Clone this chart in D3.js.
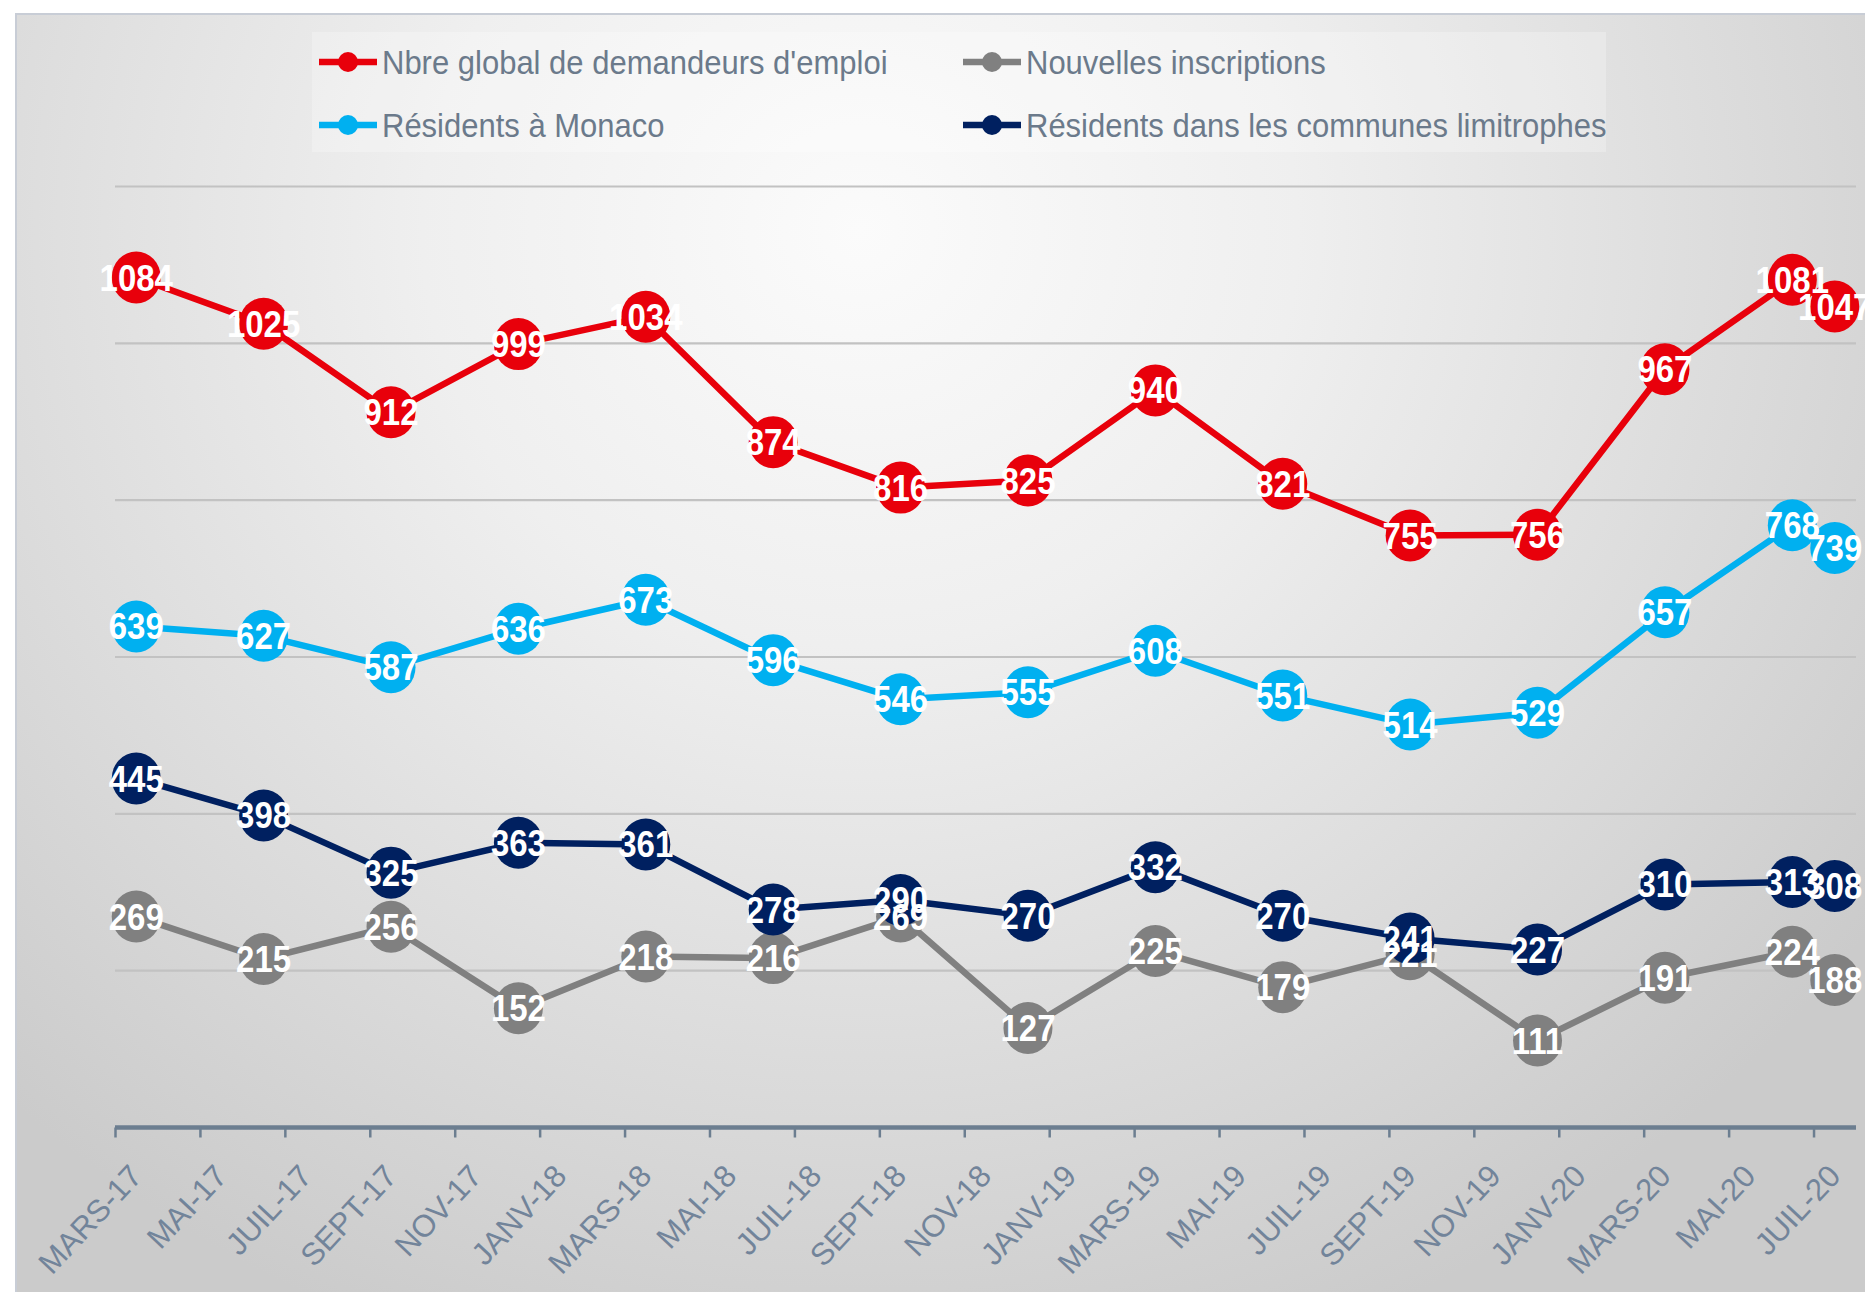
<!DOCTYPE html>
<html>
<head>
<meta charset="utf-8">
<script src="https://cdn.jsdelivr.net/npm/d3@7"></script>
<style>
  html, body { margin: 0; padding: 0; background: #ffffff; }
  svg { display: block; }
</style>
</head>
<body>
<svg id="chart" width="1865" height="1292"></svg>
<script>
// ---------------- DATA ----------------
const months = ["2017-03","2017-06","2017-09","2017-12","2018-03","2018-06","2018-09","2018-12","2019-03","2019-06","2019-09","2019-12","2020-03","2020-06","2020-07"];
const nbreGlobal = [1084, 1025, 912, 999, 1034, 874, 816, 825, 940, 821, 755, 756, 967, 1081, 1047];
const nouvellesInscriptions = [269, 215, 256, 152, 218, 216, 269, 127, 225, 179, 221, 111, 191, 224, 188];
const residentsMonaco = [639, 627, 587, 636, 673, 596, 546, 555, 608, 551, 514, 529, 657, 768, 739];
const residentsLimitrophes = [445, 398, 325, 363, 361, 278, 290, 270, 332, 270, 241, 227, 310, 313, 308];
const tickLabels = ["MARS-17","MAI-17","JUIL-17","SEPT-17","NOV-17","JANV-18","MARS-18","MAI-18","JUIL-18","SEPT-18","NOV-18","JANV-19","MARS-19","MAI-19","JUIL-19","SEPT-19","NOV-19","JANV-20","MARS-20","MAI-20","JUIL-20"];
const seriesNames = ["Nbre global de demandeurs d'emploi","Nouvelles inscriptions","Résidents à Monaco","Résidents dans les communes limitrophes"];
const seriesColors = ["#e8000b","#808080","#00b0f0","#002060"];
const yTicks = [200, 400, 600, 800, 1000, 1200];

// ---------------- SETUP ----------------
const W = 1865, H = 1292;
const svg = d3.select("#chart");
const defs = svg.append("defs");

const grad = defs.append("radialGradient")
  .attr("id", "bg").attr("gradientUnits", "userSpaceOnUse")
  .attr("cx", 860).attr("cy", 230).attr("r", 1250)
  .attr("gradientTransform", "translate(860,230) scale(1,0.95) translate(-860,-230)");
grad.append("stop").attr("offset", "0").attr("stop-color", "#fbfbfb");
grad.append("stop").attr("offset", "0.35").attr("stop-color", "#efefef");
grad.append("stop").attr("offset", "0.75").attr("stop-color", "#d9d9d9");
grad.append("stop").attr("offset", "1").attr("stop-color", "#cbcbcb");

svg.append("rect").attr("width", W).attr("height", H).attr("fill", "#ffffff");
svg.append("rect").attr("x", 16).attr("y", 14).attr("width", W).attr("height", H)
  .attr("fill", "url(#bg)").attr("stroke", "#c8cdd6").attr("stroke-width", 2);

// month index helper
const monthIndex = s => { const [yy, mm] = s.split("-").map(Number); return (yy - 2017) * 12 + (mm - 3); };

const x = d3.scaleLinear().domain([0, 41]).range([115, 1856]);
const y = d3.scaleLinear().domain([0, 1200]).range([1127.5, 186.5]);

// gridlines
svg.append("g").selectAll("line").data(yTicks).join("line")
  .attr("x1", x(0)).attr("x2", x(41))
  .attr("y1", d => y(d)).attr("y2", d => y(d))
  .attr("stroke", "#c2c2c2").attr("stroke-width", 2.2);

// x axis
const xAxis = d3.axisBottom(x)
  .tickValues(d3.range(0, 41, 2))
  .tickSize(10)
  .tickSizeOuter(0)
  .tickFormat((d, i) => tickLabels[i]);
const gx = svg.append("g").attr("transform", `translate(0,${y(0)})`).call(xAxis);
gx.select(".domain").attr("stroke", "#6c7e90").attr("stroke-width", 4.5)
  .attr("d", `M${x(0)},0H${x(41)}`);
gx.selectAll(".tick line").attr("stroke", "#6c7e90").attr("stroke-width", 2.5);
gx.selectAll(".tick text")
  .attr("fill", "#72849a")
  .attr("font-family", "'Liberation Sans', Arial, sans-serif")
  .attr("font-size", 31)
  .attr("text-anchor", "end")
  .attr("y", 0).attr("dy", 0)
  .attr("transform", `translate(${(x(1) - x(0)) / 2 + 7},50) rotate(-47)`);

// series
const values = [nbreGlobal, nouvellesInscriptions, residentsMonaco, residentsLimitrophes];
const series = seriesNames.map((name, k) => ({
  name, color: seriesColors[k],
  points: months.map((m, i) => ({ xi: monthIndex(m) + 0.5, v: values[k][i] }))
}));

const line = d3.line().x(d => x(d.xi)).y(d => y(d.v));
const plot = svg.append("g");
series.forEach(s => {
  plot.append("path").datum(s.points)
    .attr("d", line).attr("fill", "none")
    .attr("stroke", s.color).attr("stroke-width", 6.5)
    .attr("stroke-linejoin", "round");
  plot.append("g").selectAll("ellipse").data(s.points).join("ellipse")
    .attr("cx", d => x(d.xi)).attr("cy", d => y(d.v))
    .attr("rx", 24.5).attr("ry", 26)
    .attr("fill", s.color);
});
const labels = svg.append("g");
series.forEach(s => {
  labels.append("g").selectAll("text").data(s.points).join("text")
    .attr("transform", d => `translate(${x(d.xi)},${y(d.v)}) scale(1,1.1)`)
    .attr("text-anchor", "middle").attr("dy", "0.36em")
    .attr("font-family", "'Liberation Sans', Arial, sans-serif")
    .attr("font-weight", "bold").attr("font-size", 33)
    .attr("fill", "#ffffff")
    .text(d => d.v);
});

// legend
const legend = svg.append("g");
legend.append("rect").attr("x", 312).attr("y", 32).attr("width", 1294).attr("height", 120)
  .attr("fill", "#ffffff").attr("opacity", 0.25);
const legendPos = [[319, 62], [963, 62], [319, 125], [963, 125]];
series.forEach((s, k) => {
  const [lx, ly] = legendPos[k];
  const g = legend.append("g").attr("transform", `translate(${lx},${ly})`);
  g.append("line").attr("x1", 0).attr("x2", 58).attr("y1", 0).attr("y2", 0)
    .attr("stroke", s.color).attr("stroke-width", 6.5);
  g.append("ellipse").attr("cx", 29).attr("cy", 0).attr("rx", 10).attr("ry", 10).attr("fill", s.color);
  g.append("text").attr("transform", "translate(63,0) scale(1,1.1)").attr("dy", "0.35em")
    .attr("font-family", "'Liberation Sans', Arial, sans-serif")
    .attr("font-size", 31).attr("fill", "#6b7a8b")
    .text(s.name);
});
</script>
</body>
</html>
